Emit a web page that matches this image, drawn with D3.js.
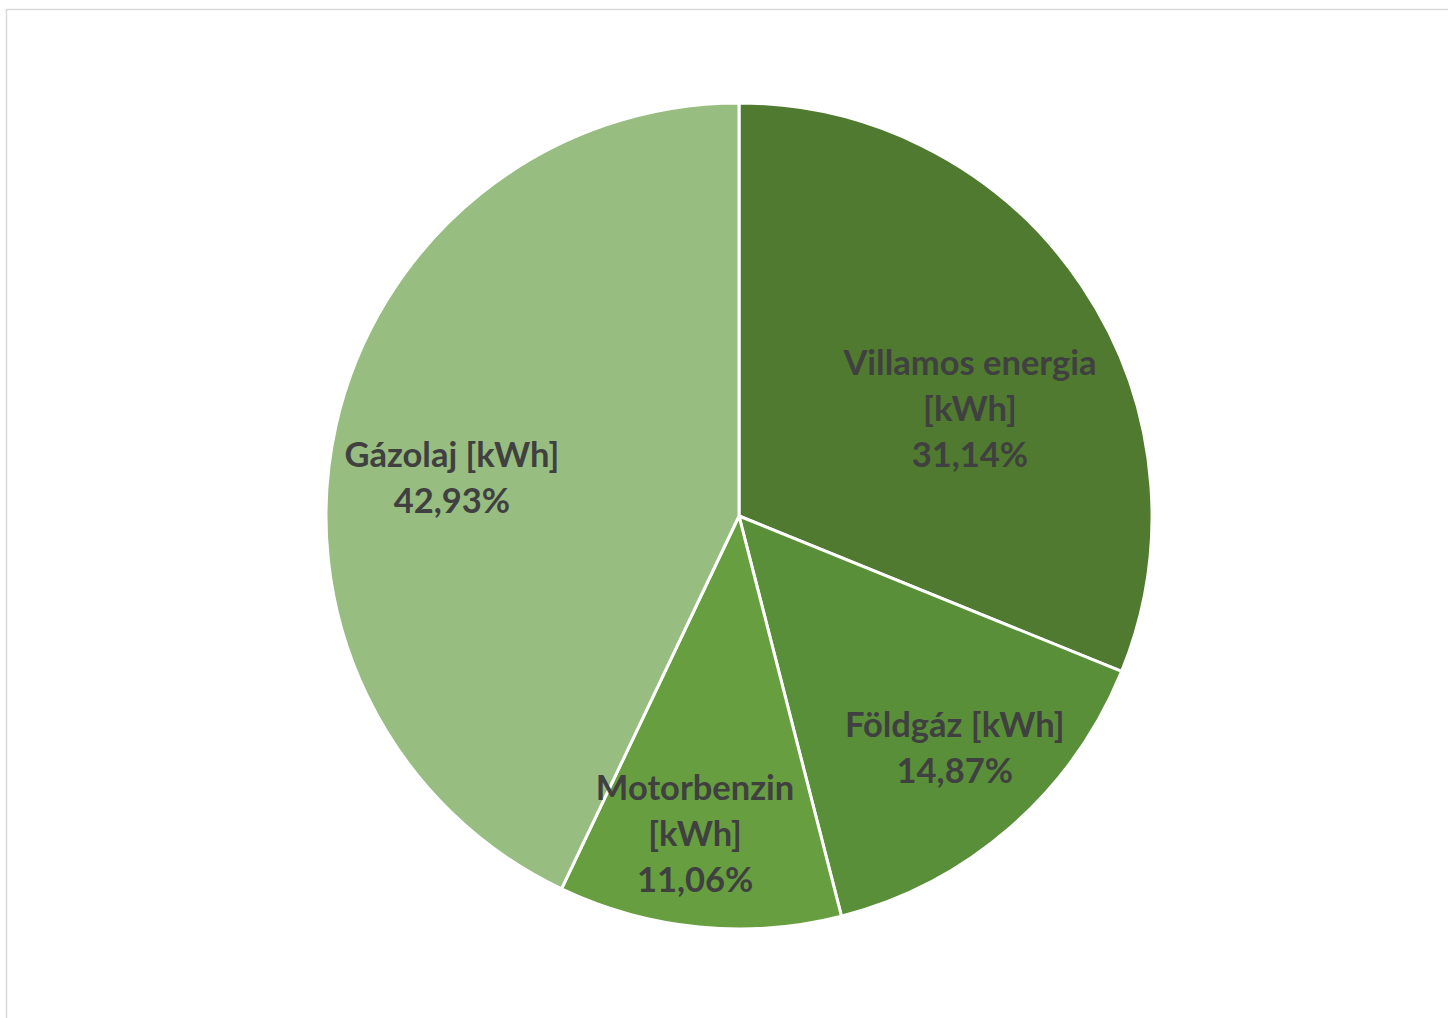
<!DOCTYPE html>
<html>
<head>
<meta charset="utf-8">
<script src="https://cdn.jsdelivr.net/npm/d3@7"></script>
<style>
  body { margin: 0; background: #fff; }
</style>
</head>
<body>
<div id="chart"></div>
<script>
const categories = ["Villamos energia [kWh]", "Földgáz [kWh]", "Motorbenzin [kWh]", "Gázolaj [kWh]"];
const shares = [31.14, 14.87, 11.06, 42.93];
const labelLines = [
  ["Villamos energia", "[kWh]", "31,14%"],
  ["Földgáz [kWh]", "14,87%"],
  ["Motorbenzin", "[kWh]", "11,06%"],
  ["Gázolaj [kWh]", "42,93%"]
];
const colors = ["#4f7a30", "#5a8f3a", "#679e40", "#98bd81"];

const width = 1448;
const height = 1018;
const cx = 739, cy = 516, radius = 413;

// nudges so labels sit where Excel's "best fit" put them
const labelNudge = [[-26, 66], [12, -1], [-14, 10], [15, 30]];

const svg = d3.select("#chart")
  .append("svg")
  .attr("width", width)
  .attr("height", height);

// chart area border
svg.append("rect")
  .attr("x", 6.5)
  .attr("y", 9.5)
  .attr("width", width + 10)
  .attr("height", height + 10)
  .attr("fill", "#fff")
  .attr("stroke", "#d9d9d9")
  .attr("stroke-width", 1.5);

const pie = d3.pie().sort(null).value(d => d);
const arcs = pie(shares);

const arc = d3.arc().innerRadius(0).outerRadius(radius);
const labelArc = d3.arc().innerRadius(radius * 0.75).outerRadius(radius * 0.75);

const g = svg.append("g")
  .attr("transform", `translate(${cx},${cy})`);

g.selectAll("path")
  .data(arcs)
  .enter()
  .append("path")
  .attr("d", arc)
  .attr("fill", (d, i) => colors[i])
  .attr("stroke", "#fff")
  .attr("stroke-width", 3)
  .attr("stroke-linejoin", "round");

// Labels
const lineH = 46;
const labels = g.selectAll("text.lbl")
  .data(arcs)
  .enter()
  .append("text")
  .attr("class", "lbl")
  .attr("text-anchor", "middle")
  .attr("font-family", "Lato, 'Open Sans', sans-serif")
  .attr("font-weight", "bold")
  .attr("font-size", "34.5px")
  .attr("fill", "#404040")
  .each(function (d, i) {
    const [x, y] = labelArc.centroid(d);
    const lines = labelLines[i];
    const x0 = x + labelNudge[i][0];
    const y0 = y + labelNudge[i][1] - (lines.length - 1) * lineH / 2;
    const t = d3.select(this);
    lines.forEach((s, k) => {
      t.append("tspan")
        .attr("x", x0)
        .attr("y", y0 + k * lineH)
        .attr("dy", "0.35em")
        .text(s);
    });
  });
</script>
</body>
</html>
